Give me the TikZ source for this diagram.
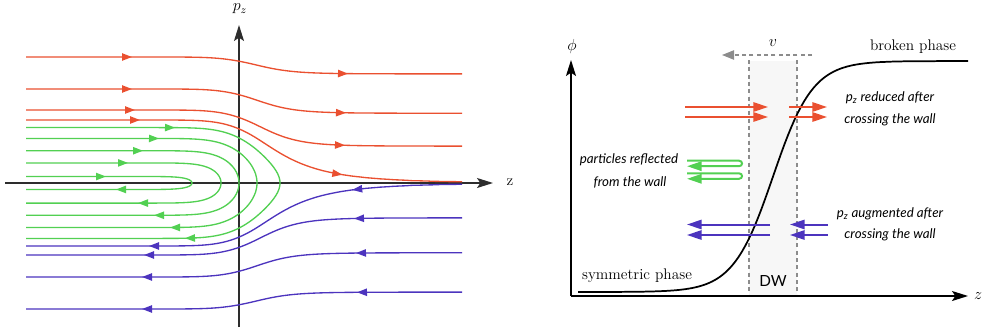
\documentclass[tikz,border=0pt]{standalone}
\usepackage{fontspec}
\newfontfamily\gillfont{Lato}
\usepackage{tikz}
\usetikzlibrary{arrows.meta,decorations.markings}
\definecolor{FlowR} {RGB}{234, 80, 48}
\definecolor{FlowG} {RGB}{ 82,208, 82}
\definecolor{FlowB} {RGB}{ 76, 52,190}
\definecolor{AxisD} {RGB}{ 45, 45, 45}
\definecolor{WallF} {RGB}{247,247,247}
\definecolor{DashG} {RGB}{140,140,140}

\tikzset{
  declare function={
    gg(\u)=ifthenelse(\u<0,1.1284*\u+0.1009*\u*\u*\u,1.1284*\u/(1+0.095*\u));
    ff(\t)=1/(1+exp(-2*max(-4.5,min(4.5,gg((\t-257)/40)))));
    pp(\t,\k)=10*sqrt(max(0,\k*\k-39.7*ff(\t)));
    ww(\t)=1/(1+exp(-2*max(-4.5,min(4.5,(\t-773)/40))));
  },
  axisline/.style={line width=1.1pt,-{Stealth[length=12pt,width=7.5pt,inset=2.5pt]}},
  flow/.style={line width=1pt},
  wide/.style={line width=1.5pt,-{Triangle[length=11pt,width=7pt]}},
  small tip/.tip={Triangle[length=7.5pt,width=5.5pt]},
  fwd/.style 2 args={postaction={decorate},decoration={markings,
      mark=at position #1pt with {\arrow{small tip}},
      mark=at position -#2pt with {\arrow{small tip}}}},
  bwd/.style 2 args={postaction={decorate},decoration={markings,
      mark=at position #1pt with {\arrowreversed{small tip}},
      mark=at position -#2pt with {\arrowreversed{small tip}}}},
  lbl/.style={font=\fontsize{11.5}{13}\selectfont},
  note/.style={font=\gillfont\itshape\fontsize{10}{12}\selectfont}
}

\begin{document}
\begin{tikzpicture}[x=0.75pt,y=-0.75pt]
  \useasboundingbox (0,0) rectangle (985,332);

  % phase space
  \draw[axisline,AxisD] (5,183) -- (493,183);
  \node[lbl] (zL) at (510,182) {z};
  \draw[axisline,AxisD] (239,327) -- (239,25);
  \node[lbl] (pz) at (240,9) {$p_z$};

  \foreach \pL/\xa/\xb in {12.6/132/348, 9.4/132/346, 7.3/135/345, 6.3/140/342}{
    \pgfmathsetmacro\pa{0.75*(\xa-26)}
    \pgfmathsetmacro\pb{0.75*(462-\xb)}
    \draw[flow,FlowR,fwd={\pa}{\pb}] plot[domain=26:462,samples=150]
      (\x,{183-pp(\x,\pL)});
  }
  \foreach \pL/\xa/\xb in {6.3/149/352, 7.2/144/354, 9.4/142/356, 12.6/142/357}{
    \pgfmathsetmacro\pa{0.75*(\xa-26)}
    \pgfmathsetmacro\pb{0.75*(462-\xb)}
    \draw[flow,FlowB,bwd={\pa}{\pb}] plot[domain=26:462,samples=150]
      (\x,{183+pp(\x,\pL)});
  }
  \foreach \xt/\xa/\xb in {280/175/185, 257/159/170, 239/143/154, 221/128/138, 192/106/116}{
    \pgfmathsetmacro\pL{sqrt(39.7*ff(\xt))}
    \pgfmathsetmacro\sMax{sqrt(\xt-26)}
    \pgfmathsetmacro\pa{0.75*(\xa-26)}
    \pgfmathsetmacro\pb{0.75*(\xb-26)}
    \draw[flow,FlowG,fwd={\pa}{\pb}] plot[domain=-\sMax:\sMax,samples=151,variable=\s]
      ({\xt-\s*\s},{183+sign(\s)*pp(\xt-\s*\s,\pL)});
  }

  % wall profile
  \fill[WallF] (749,61) rectangle (797,296);
  \draw[DashG,line width=0.8pt,dash pattern=on 3pt off 2.5pt] (749,60) -- (749,296)
    (797,60) -- (797,296);
  \draw[DashG,line width=0.8pt,dash pattern=on 3pt off 2.5pt,
    -{Triangle[length=9pt,width=7pt]}] (812,55) -- (722,55);
  \node[lbl] (vw) at (773,43) {$v$};

  \draw[axisline] (571,296) -- (571,60);
  \draw[axisline] (571,296) -- (968,296);
  \node[lbl] (phi) at (572,46) {$\phi$};
  \node[lbl] (zR) at (978,296) {$z$};
  \draw[line width=1.3pt] plot[domain=578:968,samples=120] (\x,{292-231*ww(\x)});

  \foreach \y in {107,117}{
    \draw[wide,FlowR] (685,\y) -- (768,\y);
    \draw[wide,FlowR] (789,\y) -- (827,\y);
  }
  \foreach \y in {224.5,235}{
    \draw[wide,FlowB] (770,\y) -- (687,\y);
    \draw[wide,FlowB] (828,\y) -- (790,\y);
  }
  \foreach \y in {160.7,173.3}{
    \draw[wide,FlowG] (687,\y) -- (739,\y) .. controls (743,\y) and (743,\y+5.5)
      .. (739,\y+5.5) -- (687,\y+5.5);
  }

  \node[lbl] (brk) at (913,47) {broken phase};
  \node[lbl] (sym) at (637,276) {symmetric phase};
  \node[font=\gillfont\fontsize{11.5}{13}\selectfont] (dw) at (773,281) {DW};
  \node[note] (red1) at (890,98) {p\textsubscript{z} reduced after};
  \node[note] (red2) at (890,120) {crossing the wall};
  \node[note] (ref1) at (629,160) {particles reflected};
  \node[note] (ref2) at (630,182) {from the wall};
  \node[note] (aug1) at (890,214) {p\textsubscript{z} augmented after};
  \node[note] (aug2) at (890,235) {crossing the wall};
\end{tikzpicture}
\end{document}
